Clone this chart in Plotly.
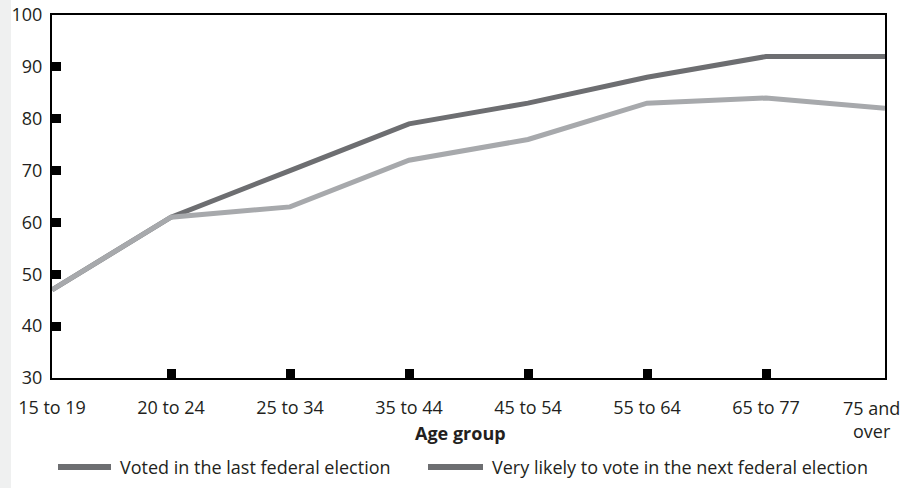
import plotly.graph_objects as go

# Age groups and voting shares (%)
age_groups = ["15 to 19", "20 to 24", "25 to 34", "35 to 44", "45 to 54",
              "55 to 64", "65 to 77", "75 and<br>over"]
voted_last = [47, 61, 70, 79, 83, 88, 92, 92]
likely_next = [47, 61, 63, 72, 76, 83, 84, 82]

series_names = ["Voted in the last federal election",
                "Very likely to vote in the next federal election"]
y_ticks = [30, 40, 50, 60, 70, 80, 90, 100]
x_title = "Age group"

DARK = "#6d6e71"
LIGHT = "#a7a9ac"
TEXT = "#231f20"
FONT = "Open Sans"

x_pos = list(range(len(age_groups)))

# the last category label sits on the right frame edge; it is drawn as an
# annotation nudged left so it stays inside the page
tick_text = age_groups[:-1] + [""]

fig = go.Figure()
fig.add_trace(go.Scatter(x=x_pos, y=voted_last, mode="lines",
                         line=dict(color=DARK, width=5),
                         name=series_names[0], showlegend=False))
fig.add_trace(go.Scatter(x=x_pos, y=likely_next, mode="lines",
                         line=dict(color=LIGHT, width=5),
                         name=series_names[1], showlegend=False))
# carrier trace for the overlay axes that draw the square tick marks
fig.add_trace(go.Scatter(x=x_pos, y=voted_last, mode="lines",
                         line=dict(width=0), opacity=0, hoverinfo="skip",
                         showlegend=False, xaxis="x2", yaxis="y2"))

fig.update_layout(
    width=912, height=488,
    margin=dict(l=52, r=27, t=15, b=110, autoexpand=False),
    paper_bgcolor="white", plot_bgcolor="white",
    font=dict(family=FONT, size=18, color=TEXT),
    showlegend=False,
    xaxis=dict(range=[0, len(age_groups) - 1], tickvals=x_pos,
               ticktext=tick_text, ticks="", showgrid=False, zeroline=False,
               showline=True, linecolor="black", linewidth=2, mirror=True,
               tickfont=dict(size=18, color=TEXT), ticklabelstandoff=12,
               ticklabeloverflow="allow", automargin=False),
    yaxis=dict(range=[30, 100], tickvals=y_ticks, ticks="",
               showgrid=False, zeroline=False,
               showline=True, linecolor="black", linewidth=2, mirror=True,
               tickfont=dict(size=18, color=TEXT), ticklabelstandoff=4,
               automargin=False),
    xaxis2=dict(overlaying="x", matches="x", anchor="y2",
                tickvals=x_pos[1:-1], ticks="inside", ticklen=9, tickwidth=9,
                tickcolor="black", showticklabels=False, showgrid=False,
                zeroline=False, showline=False, automargin=False),
    yaxis2=dict(overlaying="y", matches="y", anchor="x2",
                tickvals=y_ticks[1:-1], ticks="inside", ticklen=9, tickwidth=9,
                tickcolor="black", showticklabels=False, showgrid=False,
                zeroline=False, showline=False, automargin=False),
)

# last category label
fig.add_annotation(xref="x", yref="paper", x=x_pos[-1], y=-16 / 363,
                   xshift=-14, text=age_groups[-1], showarrow=False,
                   xanchor="center", yanchor="top", align="center",
                   font=dict(size=18, color=TEXT))

# x-axis title
fig.add_annotation(xref="paper", yref="paper", x=408 / 833, y=-55 / 363,
                   text=f"<b>{x_title}</b>", showarrow=False,
                   xanchor="center", yanchor="middle",
                   font=dict(size=18, color=TEXT))

# light strip along the left edge of the page
fig.add_shape(type="rect", xref="paper", yref="paper",
              x0=-52 / 833, x1=-41 / 833, y0=-110 / 363, y1=1 + 15 / 363,
              fillcolor="#eff0f0", line_width=0, layer="below")

# legend row: swatches and labels
legend_y = -0.245
swatches = [(6 / 833, 59 / 833), (376 / 833, 431 / 833)]
for (x0, x1), name in zip(swatches, series_names):
    fig.add_shape(type="line", xref="paper", yref="paper",
                  x0=x0, x1=x1, y0=legend_y, y1=legend_y,
                  line=dict(color=DARK, width=6))
    fig.add_annotation(xref="paper", yref="paper", x=x1 + 7 / 833, y=legend_y,
                       text=name, showarrow=False, xanchor="left",
                       yanchor="middle", font=dict(size=18, color=TEXT))

fig.write_html("out.html")
